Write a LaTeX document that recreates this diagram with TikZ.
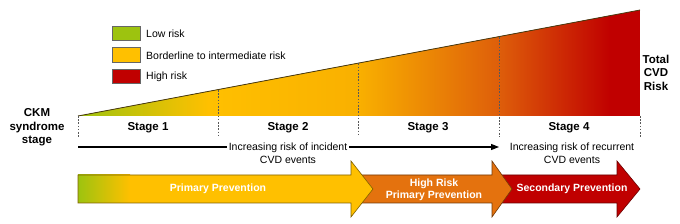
\documentclass[tikz,border=0pt]{standalone}
\usepackage{fontspec}
\setmainfont{Liberation Sans}
\usetikzlibrary{arrows.meta}
\definecolor{lowgreen}{HTML}{9DC30F}
\definecolor{midyellow}{HTML}{FFC000}
\definecolor{yel2}{HTML}{F9B000}
\definecolor{orng}{HTML}{DE5E0A}
\definecolor{hired}{HTML}{C00000}
\definecolor{arroworange}{HTML}{E4720E}
\definecolor{edgedark}{HTML}{4A3A10}
\tikzset{
  legbox/.style={draw=black!60, line width=0.5pt, minimum width=28pt, minimum height=14.5pt, inner sep=0pt},
  legtext/.style={anchor=west, font=\fontsize{10.5}{12}\selectfont, inner sep=0pt},
  stagelbl/.style={font=\bfseries\fontsize{11.5}{13}\selectfont, inner sep=0pt},
  sidelbl/.style={font=\bfseries\fontsize{11.5}{13.5}\selectfont, align=center, inner sep=0pt},
  risktext/.style={font=\fontsize{10.5}{13}\selectfont, align=center, inner sep=2pt},
  divider/.style={draw=black!65, line width=0.6pt, dash pattern=on 1.6pt off 1.6pt},
  arrowlbl/.style={font=\bfseries\fontsize{10.5}{12}\selectfont, text=white, align=center, inner sep=0pt},
}
\begin{document}
\begin{tikzpicture}[x=1pt,y=-1pt]
\useasboundingbox (0,0) rectangle (680,224);
% triangle corners
\coordinate (tl) at (78,116);
\coordinate (tr) at (640,10);
\coordinate (br) at (640,116);
% gradient fill of triangle
\begin{scope}
  \clip (tl) -- (tr) -- (br) -- cycle;
  \fill[left color=lowgreen, right color=midyellow] (77,0) rectangle (208.5,117);
  \fill[left color=midyellow, right color=yel2] (208,0) rectangle (358.5,117);
  \fill[left color=yel2, right color=orng] (358,0) rectangle (499.5,117);
  \fill[left color=orng, right color=hired] (499,0) rectangle (610.5,117);
  \fill[hired] (610,0) rectangle (641,117);
\end{scope}
\draw[edgedark, line width=0.8pt] (tl) -- (tr);
% dividers
\foreach \x/\n in {78/d0,218/d1,358/d2,499/d3,640/d4}{
  \coordinate (\n) at (\x,137);
}
\coordinate (d0t) at (78,116);
\coordinate (d1t) at (218,90);
\coordinate (d2t) at (358,63.5);
\coordinate (d3t) at (499,37);
\coordinate (d4t) at (640,116);
\draw[divider] (d0t) -- (d0);
\draw[divider] (d1t) -- (d1);
\draw[divider] (d2t) -- (d2);
\draw[divider] (d3t) -- (d3);
\draw[divider] (d4t) -- (d4);
% legend
\node[legbox, fill=lowgreen] (lg1) at (126,33.5) {};
\node[legbox, fill=midyellow] (lg2) at (126,55) {};
\node[legbox, fill=hired] (lg3) at (126,76.5) {};
\node[legtext] (lt1) at (146,34) {Low risk};
\node[legtext] (lt2) at (146,55.5) {Borderline to intermediate risk};
\node[legtext] (lt3) at (146,77) {High risk};
% side labels
\node[sidelbl] (ckm) at (37,127.5) {CKM\\syndrome\\stage};
\node[sidelbl] (tot) at (656,72.5) {Total\\CVD\\Risk};
% stage labels
\node[stagelbl] (s1) at (148,128) {Stage 1};
\node[stagelbl] (s2) at (288,128) {Stage 2};
\node[stagelbl] (s3) at (428,128) {Stage 3};
\node[stagelbl] (s4) at (569,128) {Stage 4};
% risk line
\coordinate (ls) at (78,147);
\coordinate (le) at (499,147);
\node[risktext] (inc1) at (288,153.5) {Increasing risk of incident\\CVD events};
\node[risktext] (inc2) at (572,153.5) {Increasing risk of recurrent\\CVD events};
\draw[line width=1.1pt] (ls) -- (ls -| inc1.west);
\draw[line width=1.1pt, -{Triangle[length=8pt,width=6pt]}] (le -| inc1.east) -- (le);
% bottom arrows (red, orange, yellow order)
\draw[fill=hired, draw=hired!55!black, line width=0.6pt]
  (500,175) -- (617,175) -- (617,161) -- (640,189) -- (617,217) -- (617,203) -- (500,203) -- cycle;
\draw[fill=arroworange, draw=arroworange!50!black, line width=0.6pt]
  (355,175) -- (492,175) -- (492,161) -- (512,189) -- (492,217) -- (492,203) -- (355,203) -- cycle;
\fill[midyellow]
  (78,175) -- (351,175) -- (351,161) -- (373,189) -- (351,217) -- (351,203) -- (78,203) -- cycle;
\fill[left color=lowgreen, right color=midyellow] (78,175) rectangle (130,203);
\draw[draw=midyellow!50!black, line width=0.6pt]
  (78,175) -- (351,175) -- (351,161) -- (373,189) -- (351,217) -- (351,203) -- (78,203) -- cycle;
\node[arrowlbl] (pp) at (218,189) {Primary Prevention};
\node[arrowlbl] (hr) at (434,189.5) {High Risk\\Primary Prevention};
\node[arrowlbl] (sp) at (572,189) {Secondary Prevention};
\end{tikzpicture}
\end{document}
